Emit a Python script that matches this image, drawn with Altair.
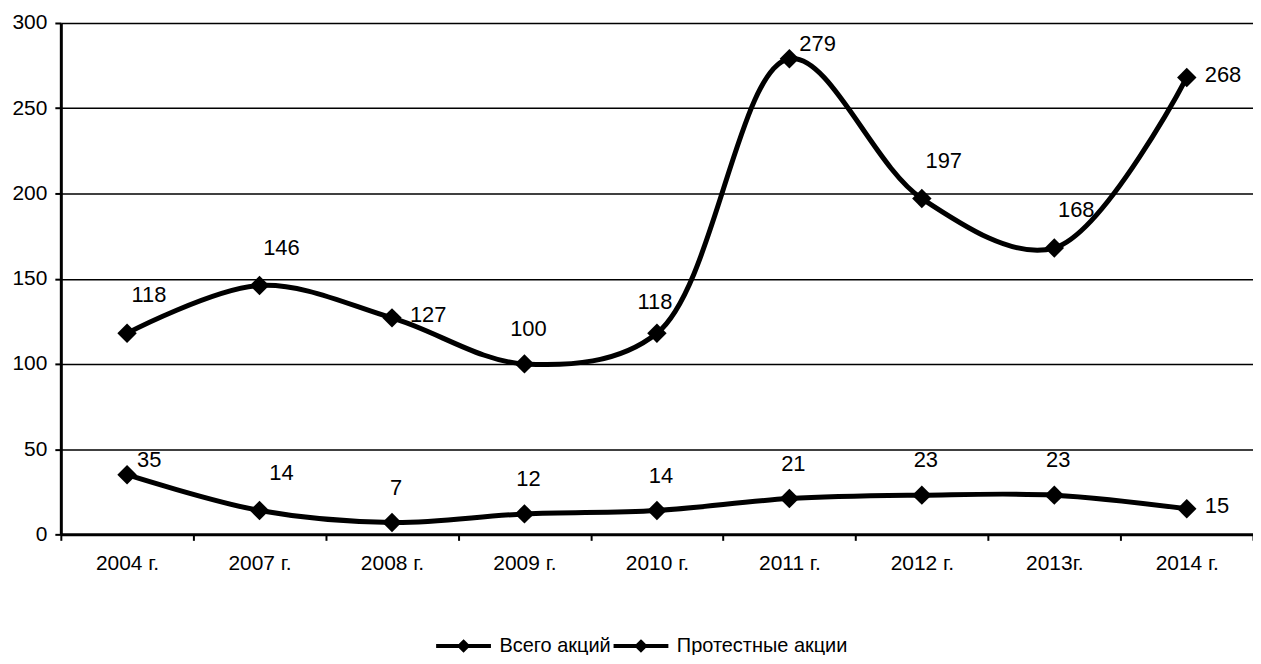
import altair as alt
import pandas as pd

years = ["2004 г.", "2007 г.", "2008 г.", "2009 г.", "2010 г.", "2011 г.", "2012 г.", "2013г.", "2014 г."]
total = [118, 146, 127, 100, 118, 279, 197, 168, 268]
protest = [35, 14, 7, 12, 14, 21, 23, 23, 15]
series_names = ["Всего акций", "Протестные акции"]
y_ticks = [0, 50, 100, 150, 200, 250, 300]

# label placement category per point
total_label_pos = ["ne", "ne", "e", "n", "nw", "ene", "ne", "ne", "e"]
protest_label_pos = ["ene", "ne", "n", "n", "n", "n", "n", "n", "e"]

rows = []
for y, v, p in zip(years, total, total_label_pos):
    rows.append({"year": y, "value": v, "series": series_names[0], "pos": p})
for y, v, p in zip(years, protest, protest_label_pos):
    rows.append({"year": y, "value": v, "series": series_names[1], "pos": p})
df = pd.DataFrame(rows)

FONT = "Liberation Sans"

x_enc = alt.X("year:N", sort=years, title=None,
              scale=alt.Scale(type="band", paddingInner=0, paddingOuter=0),
              axis=alt.Axis(labelAngle=0, grid=False, tickBand="extent",
                            domainColor="black", domainWidth=3, tickColor="black",
                            tickWidth=2, tickSize=6, labelPadding=12,
                            labelFontSize=21, labelColor="black", labelFont=FONT))
y_enc = alt.Y("value:Q", title=None,
              scale=alt.Scale(domain=[0, 300], nice=False),
              axis=alt.Axis(values=y_ticks, grid=True, gridColor="black", gridWidth=1.5,
                            gridOpacity=1, domainColor="black", domainWidth=3,
                            tickColor="black", tickWidth=2, tickSize=6, labelPadding=8,
                            labelFontSize=21, labelColor="black", labelFont=FONT))
color_enc = alt.Color("series:N", sort=series_names,
                      scale=alt.Scale(domain=series_names, range=["black", "black"]),
                      legend=alt.Legend(title=None, orient="none", direction="horizontal",
                                        legendX=394, legendY=615,
                                        symbolType="M-5.5,0 L5.5,0 M0,-0.8 L0.8,0 L0,0.8 L-0.8,0 Z",
                                        symbolSize=100, symbolStrokeWidth=4,
                                        symbolFillColor="black", symbolStrokeColor="black",
                                        labelOffset=26, columnPadding=-6, padding=0,
                                        labelLimit=0,
                                        labelFontSize=20, labelColor="black", labelFont=FONT))

base = alt.Chart(df)

lines = base.mark_line(interpolate="catmull-rom", strokeWidth=5).encode(
    x=x_enc, y=y_enc, color=color_enc, detail="series:N")

points = base.mark_point(shape="diamond", size=380, filled=True, opacity=1, color="black").encode(
    x=x_enc, y=y_enc, detail="series:N")

placements = {
    "n": dict(dx=4, dy=-35, align="center"),
    "nw": dict(dx=-2, dy=-31, align="center"),
    "ne": dict(dx=22, dy=-38, align="center"),
    "e": dict(dx=18, dy=-3, align="left"),
    "ene": dict(dx=10, dy=-15, align="left"),
}

text_layers = []
for cat, opts in placements.items():
    text_layers.append(
        base.transform_filter(alt.datum.pos == cat).mark_text(
            fontSize=22, font=FONT, color="black", baseline="middle", **opts
        ).encode(x=x_enc, y=y_enc, text="value:Q")
    )

chart = alt.layer(lines, points, *text_layers).properties(
    width=1196, height=513,
    autosize=alt.AutoSizeParams(type="none"),
    padding={"left": 53, "top": 14, "right": 0, "bottom": 120},
).configure_view(stroke=None).configure(background="white")

chart.save("out.html", embed_options={"renderer": "svg", "actions": False})
